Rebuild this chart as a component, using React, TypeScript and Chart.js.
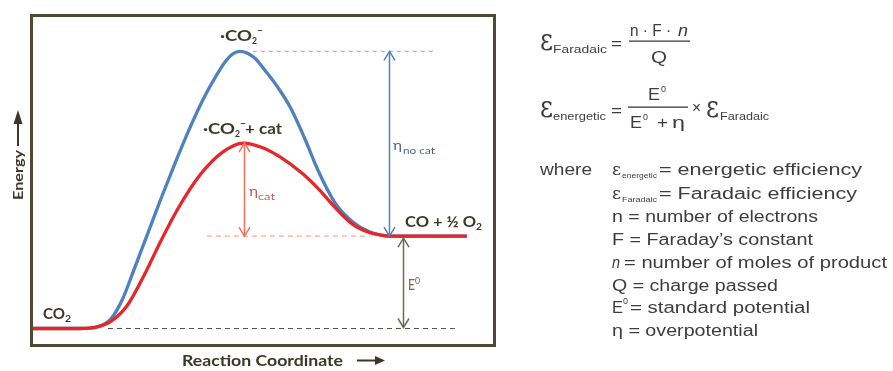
import React, { useEffect, useRef } from "react";
import { Chart, registerables } from "chart.js";

Chart.register(...registerables);

// Reaction coordinate (0–100) and relative energy
const uncatCoord = [0, 10, 14, 17, 19.5, 22, 25, 28, 31, 34, 37, 40, 42, 43.5, 45, 48, 50.9, 53.5, 55.9, 59.1, 62, 65.7, 69.6, 73, 77.6, 94.3];
const uncatEnergy = [0, 0, 0.5, 3, 9, 18, 29, 40, 50.5, 60.5, 69.5, 77, 81.2, 83.3, 84, 82.2, 77.4, 72.5, 67.1, 57.5, 47.8, 38, 32.2, 29.4, 28, 28];
const catCoord = [0, 10, 14, 17, 20.4, 24.3, 27.6, 31.5, 36.3, 41.3, 45.7, 49.5, 53.7, 58.7, 62.4, 65.2, 69.3, 73.3, 75.4, 77.6, 94.3];
const catEnergy = [0, 0, 0.5, 2.2, 6.8, 16.5, 26, 36.3, 46.5, 53.5, 56.2, 55, 52, 46.8, 41.8, 37.4, 31.8, 29, 28.4, 28, 28];

// Energy levels: CO2, ·CO2⁻ (no cat), ·CO2⁻ + cat, CO + ½ O2
const levelEnergy = [0, 84, 56.2, 28];

// Dashed guide lines (coordinate extents)
const guideNoCatX = [47.8, 87];
const guideCatX = [37.8, 73.3];
const guideBaseX = [16.3, 91.7];

// Double-headed arrows: η no cat, η cat, E0
const arrowCoord = [77.4, 45.9, 80.4];
const arrowTop = [84, 56.2, 28];
const arrowBottom = [28, 28, 0];

const BLUE = "#4f81bd";
const RED = "#e8262a";
const DARK = "#3a3828";
const PANEL = "#3d3d3d";

function pts(xs: number[], ys: number[]) {
  return xs.map((x, i) => ({ x, y: ys[i] }));
}

function fitText(
  ctx: CanvasRenderingContext2D,
  text: string,
  x: number,
  y: number,
  font: string,
  color: string,
  width?: number,
  sy = 1
) {
  ctx.save();
  ctx.font = font;
  ctx.fillStyle = color;
  ctx.textAlign = "left";
  ctx.textBaseline = "alphabetic";
  const w = ctx.measureText(text).width;
  const sx = width ? width / w : 1;
  ctx.translate(x, y);
  ctx.scale(sx, sy);
  ctx.fillText(text, 0, 0);
  ctx.restore();
}

function vHead(ctx: CanvasRenderingContext2D, x: number, y: number, dir: number) {
  // dir = -1: tip points up; dir = 1: tip points down
  ctx.beginPath();
  ctx.moveTo(x - 5.5, y - dir * 9);
  ctx.lineTo(x, y);
  ctx.lineTo(x + 5.5, y - dir * 9);
  ctx.stroke();
}

const decorPlugin = {
  id: "decor",
  afterDatasetsDraw(chart: any) {
    const ctx: CanvasRenderingContext2D = chart.ctx;
    const xs = chart.scales.x;
    const ys = chart.scales.y;
    const arrowColors = [BLUE, "#f0705c", "#6e6a52"];
    ctx.save();
    ctx.lineWidth = 1.5;
    arrowCoord.forEach((c, i) => {
      const px = Math.round(xs.getPixelForValue(c)) + 0.5;
      const top = ys.getPixelForValue(arrowTop[i]);
      const bot = ys.getPixelForValue(arrowBottom[i]) - (i === 2 ? 1 : 0);
      const t = top + (i === 2 ? 2 : 0);
      ctx.strokeStyle = arrowColors[i];
      ctx.beginPath();
      ctx.moveTo(px, t);
      ctx.lineTo(px, bot);
      ctx.stroke();
      vHead(ctx, px, t, -1);
      vHead(ctx, px, bot, 1);
    });
    ctx.restore();
  },
  afterDraw(chart: any) {
    const ctx: CanvasRenderingContext2D = chart.ctx;
    ctx.save();
    // frame
    ctx.strokeStyle = "#4f4a38";
    ctx.lineWidth = 3;
    ctx.strokeRect(31.5, 15.5, 463, 330);

    const LB = "bold 15px Lato, 'DejaVu Sans'";
    const LS = "bold 10px Lato, 'DejaVu Sans'";
    // ·CO2⁻
    fitText(ctx, "·CO", 220, 41, LB, DARK, 32);
    fitText(ctx, "2", 252, 44, LS, DARK, 5);
    fitText(ctx, "−", 257, 34, LS, DARK, 6);
    // ·CO2⁻ + cat
    fitText(ctx, "·CO", 203, 134, LB, DARK, 32);
    fitText(ctx, "2", 235, 137, LS, DARK, 5);
    fitText(ctx, "−", 240, 127, LS, DARK, 6);
    fitText(ctx, "+ cat", 245, 134, LB, DARK, 37);
    // CO + ½ O2
    fitText(ctx, "CO + ½ O", 405, 227, LB, DARK, 71);
    fitText(ctx, "2", 476, 230, LS, DARK, 6);
    // CO2
    fitText(ctx, "CO", 43, 319, LB, DARK, 22);
    fitText(ctx, "2", 65, 322, LS, DARK, 6);

    // η labels
    const ETA = "14px Lato, 'DejaVu Sans'";
    const SUB = "10px Lato, 'DejaVu Sans'";
    fitText(ctx, "η", 393, 150, ETA, "#4a6590", 9);
    fitText(ctx, "no cat", 403, 154, SUB, "#4a6590", 32);
    fitText(ctx, "η", 249, 196, ETA, "#c25a4a", 9);
    fitText(ctx, "cat", 258, 200, SUB, "#c25a4a", 17);
    fitText(ctx, "E", 408, 290, "15px Lato, 'DejaVu Sans'", "#6e6a55", 7);
    fitText(ctx, "0", 415, 284, "9px Lato, 'DejaVu Sans'", "#6e6a55", 5);

    // axis titles
    fitText(ctx, "Reaction Coordinate", 182, 366, "bold 16px Lato, 'DejaVu Sans'", DARK, 161);
    ctx.strokeStyle = DARK;
    ctx.fillStyle = DARK;
    ctx.lineWidth = 2;
    ctx.beginPath();
    ctx.moveTo(357, 360.5);
    ctx.lineTo(377, 360.5);
    ctx.stroke();
    ctx.beginPath();
    ctx.moveTo(385, 360.5);
    ctx.lineTo(375, 356);
    ctx.lineTo(375, 365);
    ctx.closePath();
    ctx.fill();

    ctx.save();
    ctx.translate(22.5, 200);
    ctx.rotate(-Math.PI / 2);
    fitText(ctx, "Energy", 0, 0, "bold 14px Lato, 'DejaVu Sans'", DARK, 50);
    ctx.restore();
    ctx.beginPath();
    ctx.moveTo(18, 146);
    ctx.lineTo(18, 122);
    ctx.stroke();
    ctx.beginPath();
    ctx.moveTo(18, 110);
    ctx.lineTo(13.5, 124);
    ctx.lineTo(22.5, 124);
    ctx.closePath();
    ctx.fill();

    // right panel: equations
    const F16 = "16px 'Liberation Sans', Arial";
    const F10 = "10px 'Liberation Sans', Arial";
    const F9 = "9px 'Liberation Sans', Arial";
    const EPS = "22px 'DejaVu Serif', 'Liberation Serif'";
    fitText(ctx, "ε", 540, 50, EPS, PANEL, 13, 1.35);
    fitText(ctx, "Faradaic", 553, 53, F10, PANEL, 54);
    fitText(ctx, "=", 611, 49, F16, PANEL, 11);
    fitText(ctx, "n · F ·", 630, 36, F16, PANEL, 41);
    fitText(ctx, "n", 678, 36, "italic " + F16, PANEL, 10);
    ctx.fillStyle = PANEL;
    ctx.fillRect(629, 40.5, 61, 1.3);
    fitText(ctx, "Q", 651, 63, "17px 'Liberation Sans', Arial", PANEL, 16);

    fitText(ctx, "ε", 540, 117, EPS, PANEL, 13, 1.35);
    fitText(ctx, "energetic", 553, 120, F10, PANEL, 53);
    fitText(ctx, "=", 611, 116, F16, PANEL, 11);
    fitText(ctx, "E", 648, 100, F16, PANEL, 12);
    fitText(ctx, "0", 661, 92, F9, PANEL, 5);
    ctx.fillStyle = PANEL;
    ctx.fillRect(628, 106.5, 60, 1.3);
    fitText(ctx, "E", 630, 128, F16, PANEL, 12);
    fitText(ctx, "0", 643, 120, F9, PANEL, 5);
    fitText(ctx, "+", 657, 128, F16, PANEL, 11);
    fitText(ctx, "η", 672, 128, F16, PANEL, 13);
    fitText(ctx, "×", 692, 113, F16, PANEL, 9);
    fitText(ctx, "ε", 706, 117, EPS, PANEL, 13, 1.35);
    fitText(ctx, "Faradaic", 720, 120, F10, PANEL, 49);

    // definitions
    const B = [175, 199, 222, 245, 268, 291, 313, 336];
    const EPS_S = "14px 'DejaVu Serif', 'Liberation Serif'";
    const F8 = "8px 'Liberation Sans', Arial";
    fitText(ctx, "where", 540, B[0], F16, PANEL, 52);
    fitText(ctx, "ε", 612, B[0], EPS_S, PANEL, 9, 1.2);
    fitText(ctx, "energetic", 622, B[0] + 3, F8, PANEL, 35);
    fitText(ctx, "= energetic efficiency", 659, B[0], F16, PANEL, 203);
    fitText(ctx, "ε", 612, B[1], EPS_S, PANEL, 9, 1.2);
    fitText(ctx, "Faradaic", 622, B[1] + 3, F8, PANEL, 35);
    fitText(ctx, "= Faradaic efficiency", 659, B[1], F16, PANEL, 198);
    fitText(ctx, "n = number of electrons", 612, B[2], F16, PANEL, 206);
    fitText(ctx, "F = Faraday’s constant", 612, B[3], F16, PANEL, 201);
    fitText(ctx, "n", 612, B[4], "italic " + F16, PANEL, 8);
    fitText(ctx, "= number of moles of product", 624, B[4], F16, PANEL, 263);
    fitText(ctx, "Q = charge passed", 612, B[5], F16, PANEL, 166);
    fitText(ctx, "E", 612, B[6], F16, PANEL, 11);
    fitText(ctx, "0", 623, B[6] - 9, F9, PANEL, 5);
    fitText(ctx, "= standard potential", 630, B[6], F16, PANEL, 180);
    fitText(ctx, "η = overpotential", 612, B[7], F16, PANEL, 146);

    ctx.restore();
  },
};

export default function App() {
  const ref = useRef<HTMLCanvasElement | null>(null);

  useEffect(() => {
    if (!ref.current) return;
    const chart = new Chart(ref.current, {
      type: "line",
      data: {
        datasets: [
          {
            label: "·CO2⁻ + cat",
            data: pts(catCoord, catEnergy),
            borderColor: RED,
            borderWidth: 3.3,
            cubicInterpolationMode: "monotone",
            pointRadius: 0,
            fill: false,
            order: 0,
          },
          {
            label: "·CO2⁻",
            data: pts(uncatCoord, uncatEnergy),
            borderColor: BLUE,
            borderWidth: 3.3,
            cubicInterpolationMode: "monotone",
            pointRadius: 0,
            fill: false,
            order: 1,
          },
          {
            label: "no cat level",
            data: pts(guideNoCatX, [levelEnergy[1], levelEnergy[1]]),
            borderColor: "#8eaadb",
            borderWidth: 1,
            borderDash: [4, 4],
            pointRadius: 0,
            order: 2,
          },
          {
            label: "product level",
            data: pts(guideCatX, [levelEnergy[3], levelEnergy[3]]),
            borderColor: "#f5967f",
            borderWidth: 1,
            borderDash: [5, 4],
            pointRadius: 0,
            order: 3,
          },
          {
            label: "CO2 level",
            data: pts(guideBaseX, [levelEnergy[0], levelEnergy[0]]),
            borderColor: "#555048",
            borderWidth: 1,
            borderDash: [5, 4],
            pointRadius: 0,
            order: 4,
          },
        ],
      },
      options: {
        animation: false,
        responsive: false,
        maintainAspectRatio: false,
        layout: { padding: { left: 33, right: 400, top: 17, bottom: 27 } },
        plugins: { legend: { display: false }, tooltip: { enabled: false } },
        scales: {
          x: { type: "linear", min: 0, max: 100, display: false },
          y: { type: "linear", min: -4.7, max: 94.4, display: false },
        },
      },
      plugins: [decorPlugin],
    } as any);
    return () => chart.destroy();
  }, []);

  return (
    <div style={{ position: "absolute", left: 0, top: 0, width: 893, height: 371, background: "#fff" }}>
      <canvas ref={ref} width={893} height={371} style={{ display: "block" }} />
    </div>
  );
}
